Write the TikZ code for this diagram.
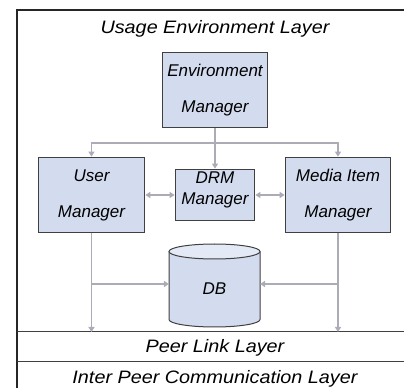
\documentclass[tikz,border=0pt]{standalone}
\usepackage{fontspec}
\setmainfont{Liberation Sans}
\newfontfamily\layerfont{Liberation Sans}[FakeStretch=1.1]
\usetikzlibrary{arrows.meta}
\definecolor{boxfill}{RGB}{211,219,238}
\definecolor{dbtop}{RGB}{228,233,246}
\definecolor{boxline}{RGB}{64,64,64}
\definecolor{flowgray}{RGB}{172,172,182}

\begin{document}
\begin{tikzpicture}[x=1bp,y=1bp,
  layer/.style={font=\layerfont\itshape\fontsize{18bp}{20bp}\selectfont},
  manager/.style={draw=boxline,fill=boxfill,line width=1bp,align=center,inner sep=0pt,
    font=\itshape\fontsize{17bp}{36bp}\selectfont},
  flow/.style={draw=flowgray,line width=1.5bp,-{Triangle[width=6bp,length=5bp]}},
  twoway/.style={flow,{Triangle[width=6bp,length=5bp]}-{Triangle[width=6bp,length=5bp]}}]
\useasboundingbox (0,0) rectangle (404,388);
% layer frame
\draw[line width=1.2bp,black!85] (17,0) -- (17,378) -- (404,378);
\draw[line width=1bp,black!75] (17,56) -- (404,56);
\draw[line width=1bp,black!75] (17,26) -- (404,26);
\coordinate (peertop) at (215,56);
\node[layer] (usage) at (215,359) {Usage Environment Layer};
\node[layer] (peer) at (215,40) {Peer Link Layer};
\node[layer] (inter) at (215,9) {Inter Peer Communication Layer};

% managers
\node[manager,minimum width=106,minimum height=76] (env) at (215,298) {Environment\\Manager};
\node[manager,minimum width=107,minimum height=76] (user) at (91.5,193) {User\\Manager};
\node[manager,minimum width=80,minimum height=52,text depth=13bp,
  font=\itshape\fontsize{17bp}{21bp}\selectfont] (drm) at (215,193) {DRM\\Manager};
\node[manager,minimum width=106,minimum height=76] (media) at (338,193) {Media Item\\Manager};

% database
\draw[draw=boxline,fill=boxfill,line width=1bp] (169,136.5) -- (169,68.5)
  arc[start angle=180,end angle=360,x radius=45.5,y radius=7.5] -- (260,136.5);
\draw[draw=boxline,fill=dbtop,line width=1bp] (214.5,136.5) ellipse[x radius=45.5,y radius=7.5];
\node[minimum width=91,minimum height=10,inner sep=0pt,
  font=\itshape\fontsize{17bp}{20bp}\selectfont] (db) at (214.5,99) {DB};
\coordinate (dbleft) at ([yshift=5bp]db.west);
\coordinate (dbright) at ([yshift=5bp]db.east);

% connectors
\coordinate (fork) at (215,245);
\draw[flow] (env.south) -- (drm.north);
\draw[flow] (fork) -| (user.north);
\draw[flow] (fork) -| (media.north);
\draw[twoway] (user.east) -- (drm.west);
\draw[twoway] (drm.east) -- (media.west);
\draw[flow] (user.south) -- (user.south |- peertop);
\draw[flow] (media.south) -- (media.south |- peertop);
\draw[flow] (user.south |- dbleft) -- (dbleft);
\draw[flow] (media.south |- dbright) -- (dbright);
\end{tikzpicture}
\end{document}
